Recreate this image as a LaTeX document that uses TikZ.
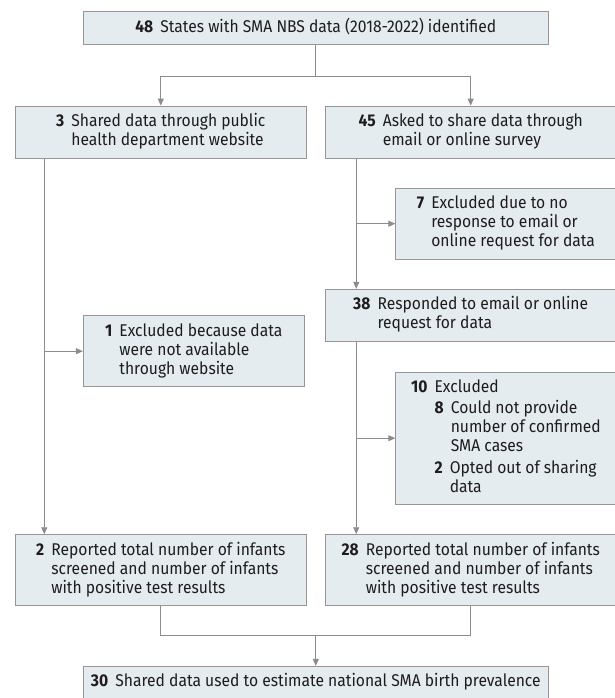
\documentclass[tikz,border=0pt]{standalone}
\usepackage{fontspec}
\setmainfont[FakeStretch=0.92]{Fira Sans}
\usepackage{array}
\usetikzlibrary{arrows.meta,positioning}
\definecolor{boxfill}{RGB}{229,236,240}
\definecolor{boxline}{RGB}{150,150,150}
\definecolor{flowgray}{RGB}{140,140,140}
\definecolor{txt}{RGB}{30,28,29}
\newcommand{\cnt}[2]{\begin{tabular}[t]{@{}>{\bfseries}r@{\hspace{.42em}}l@{}}#1 & \begin{tabular}[t]{@{}l@{}}#2\end{tabular}\end{tabular}}
\tikzset{
  flowbox/.style={draw=boxline, fill=boxfill, line width=0.9pt, inner sep=0pt,
                  font=\fontsize{17}{19}\selectfont, text=txt},
  widebox/.style={flowbox, minimum width=465pt, minimum height=33.3pt},
  halfbox/.style={flowbox, minimum width=290.7pt},
  sidebox/.style={flowbox, minimum width=220.3pt},
  flowarr/.style={-{Triangle[length=7pt, width=6pt]}, flowgray, line width=0.9pt},
  flowln/.style={flowgray, line width=0.9pt},
}

\begin{document}
\begin{tikzpicture}[x=1pt, y=-1pt]
  \useasboundingbox (0,0) rectangle (614,698);
  % boxes
  \node[widebox] (ident) at (315.8,28.3) {\cnt{48}{States with SMA NBS data (2018-2022) identified}};
  \node[halfbox, minimum height=52.3pt] (web) at (160.8,132.2) {\cnt{3}{Shared data through public\\health department website}};
  \node[halfbox, minimum height=52.3pt] (ask) at (470.7,132.2) {\cnt{45}{Asked to share data through\\email or online survey}};
  \node[sidebox, minimum height=70.7pt] (noresp) at (505.9,223.7) {\cnt{7}{Excluded due to no\\response to email or\\online request for data}};
  \node[halfbox, minimum height=52.4pt] (resp) at (470.7,315.5) {\cnt{38}{Responded to email or online\\request for data}};
  \node[sidebox, minimum width=220.7pt, minimum height=71pt] (nosite) at (193.7,351.2) {\cnt{1}{Excluded because data\\were not available\\through website}};
  \node[sidebox, minimum height=131.7pt] (excl) at (505.9,438.2) {%
    \begin{tabular}[t]{@{}>{\bfseries}r@{\hspace{.42em}}l@{}}
      10 & Excluded\\[2.5pt]
         & \cnt{8}{Could not provide\\number of confirmed\\SMA cases}\\\noalign{\vskip 2.5pt}
         & \cnt{2}{Opted out of sharing\\data}
    \end{tabular}};
  \node[halfbox, minimum height=71pt] (rep2) at (160.8,570.2) {\cnt{2}{Reported total number of infants\\screened and number of infants\\with positive test results}};
  \node[halfbox, minimum height=71pt] (rep28) at (470.7,570.2) {\cnt{28}{Reported total number of infants\\screened and number of infants\\with positive test results}};
  \node[widebox] (prev) at (315.8,683) {\cnt{30}{Shared data used to estimate national SMA birth prevalence}};
  % connectors
  \draw[flowln] (ident.south) -- ++(0,30.7) coordinate (fork);
  \draw[flowarr] (fork) -| (web.north);
  \draw[flowarr] (fork) -| (ask.north);
  \coordinate (webline) at ([xshift=29.3pt]web.south west);
  \draw[flowarr] (webline) -- (webline |- rep2.north);
  \draw[flowarr] (nosite.west -| webline) -- (nosite.west);
  \coordinate (askline) at ([xshift=31.35pt]ask.south west);
  \draw[flowarr] (askline) -- (askline |- resp.north);
  \draw[flowarr] (noresp.west -| askline) -- (noresp.west);
  \coordinate (respline) at ([xshift=31.35pt]resp.south west);
  \draw[flowarr] (respline) -- (respline |- rep28.north);
  \draw[flowarr] (excl.west -| respline) -- (excl.west);
  \draw[flowln] (rep2.south) -- ++(0,29.6) coordinate (join) -| (rep28.south);
  \draw[flowarr] (join -| prev.north) -- (prev.north);
\end{tikzpicture}
\end{document}
